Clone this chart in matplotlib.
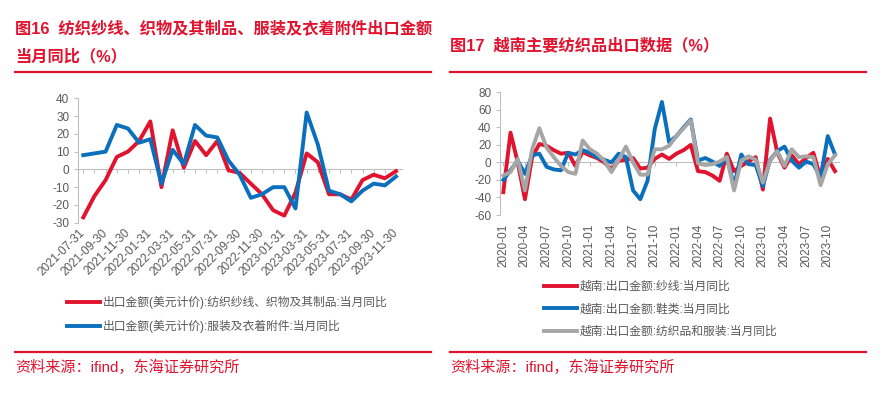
import matplotlib
matplotlib.use('Agg')
import matplotlib.pyplot as plt
from matplotlib.lines import Line2D
import pandas as pd

plt.rcParams['font.family'] = ['Liberation Sans', 'Noto Sans CJK SC']
plt.rcParams['axes.unicode_minus'] = False

# ---- data: left chart (图16) ----
left_dates = pd.date_range('2021-07-31', periods=29, freq='ME').strftime('%Y-%m-%d').tolist()
yarn_fabric = [-27, -15, -6, 7, 10, 16, 27, -10, 22, 1,
               16, 8, 16, -0.5, -2, -8, -14, -23, -26, -13,
               9, 4, -14, -14, -17, -6, -3, -5, -1]
apparel = [8, 9, 10, 25, 23, 15, 17, -8, 11, 3,
           25, 19, 18, 5, -3, -16, -14, -10, -10, -22,
           32, 14, -12, -14, -18, -12, -8, -9, -4]
left_labels = ['出口金额(美元计价):纺织纱线、织物及其制品:当月同比',
               '出口金额(美元计价):服装及衣着附件:当月同比']

# ---- data: right chart (图17) ----
right_months = pd.date_range('2020-01-01', periods=47, freq='MS').strftime('%Y-%m').tolist()
vn_yarn = [-34, 34, 0, -42, 6, 21, 19, 14, 10, 11,
           -4, 12, 8, 5, 0, -8, 2, 3, 5, -7,
           -6, 4, 9, 4, 10, 14, 20, -10, -11, -15,
           -21, 10, -10, -4, 1, 6, -31, 50, 11, -6,
           8, -2, 5, 11, -18, 4, -10]
vn_shoes = [-20, -9, 2, -13, 8, 10, -5, -8, -9, 11,
            9, 14, 11, 6, 3, 0, 10, 6, -32, -42,
            -21, 38, 69, 23, 30, 40, 49, 2, 5, 1,
            -4, 6, -27, 9, -2, -3, -27, 3, 13, 18,
            2, -6, 1, -2, -17, 30, 9]
vn_textile = [-15, -11, 4, -32, 15, 39, 17, 6, -4, -11,
              -13, 25, 15, 10, 2, -11, 3, 18, 0, -14,
              -14, 15, 15, 19, 30, 39, 48, -1, -3, -2,
              1, 6, -32, 2, 7, 3, -23, 2, 13, -4,
              15, 6, 7, 6, -26, -2, 8]
right_labels = ['越南:出口金额:纱线:当月同比',
                '越南:出口金额:鞋类:当月同比',
                '越南:出口金额:纺织品和服装:当月同比']

RED = '#E1132E'
BLUE = '#0A70BE'
GRAY = '#A6A6A6'
AXC = '#BFBFBF'
TXT = '#595959'

W, H = 884, 399
fig = plt.figure(figsize=(W / 100, H / 100), dpi=100)


def fx(px):
    return px / W


def fy(py):
    return 1 - py / H


def make_axes(l, t, r, b):
    return fig.add_axes([fx(l), fy(b), fx(r) - fx(l), fy(t) - fy(b)])


def style(ax, n, step, yticks, rot):
    ax.set_xlim(-0.5, n - 0.5)
    ax.set_ylim(yticks[0], yticks[-1])
    ax.set_yticks(yticks)
    for s in ['top', 'right', 'bottom']:
        ax.spines[s].set_visible(False)
    ax.spines['left'].set_color(AXC)
    ax.tick_params(axis='y', colors=TXT, labelsize=8.5, length=3, color=AXC, pad=3)
    ax.tick_params(axis='x', colors=TXT, labelsize=8.5, length=0, pad=6)
    sec = ax.secondary_xaxis(0, transform=ax.transData)
    sec.spines['bottom'].set_color(AXC)
    sec.set_xticks(range(0, n, 1 if rot == 45 else step))
    sec.set_xticklabels([])
    sec.tick_params(axis='x', length=3, color=AXC)


# left chart
axl = make_axes(77.7, 98.3, 401.6, 222.7)
xl = range(len(left_dates))
axl.plot(xl, yarn_fabric, color=RED, lw=2.8, label=left_labels[0])
axl.plot(xl, apparel, color=BLUE, lw=2.8, label=left_labels[1])
style(axl, len(left_dates), 2, [-30, -20, -10, 0, 10, 20, 30, 40], 45)
axl.set_xticks(range(0, len(left_dates), 2))
axl.set_xticklabels(left_dates[::2], rotation=45, ha='right', va='center',
                    rotation_mode='anchor')

# right chart
axr = make_axes(499.7, 92.3, 838.6, 215)
xr = range(len(right_months))
axr.plot(xr, vn_yarn, color=RED, lw=2.8, label=right_labels[0])
axr.plot(xr, vn_shoes, color=BLUE, lw=2.8, label=right_labels[1])
axr.plot(xr, vn_textile, color=GRAY, lw=2.8, label=right_labels[2])
style(axr, len(right_months), 3, [-60, -40, -20, 0, 20, 40, 60, 80], 90)
axr.set_xticks(range(0, len(right_months), 3))
axr.set_xticklabels(right_months[::3], rotation=90, ha='center', va='top')

# legends
leg_kw = dict(frameon=False, fontsize=8.5, handlelength=2.8, handletextpad=0.2,
              labelcolor=TXT, loc='upper left', borderaxespad=0, borderpad=0)
fig.legend(*axl.get_legend_handles_labels(), bbox_to_anchor=(fx(67), fy(296)),
           labelspacing=0.88, **leg_kw)
fig.legend(*axr.get_legend_handles_labels(), bbox_to_anchor=(fx(544), fy(281)),
           labelspacing=0.88, **leg_kw)

# titles
fig.text(fx(15), fy(28), '图16  纺织纱线、织物及其制品、服装及衣着附件出口金额',
         color=RED, fontsize=11.7, fontweight='bold', va='center', ha='left')
fig.text(fx(15), fy(57), '当月同比（%）', color=RED, fontsize=11.7,
         fontweight='bold', va='center', ha='left')
fig.text(fx(450), fy(45), '图17  越南主要纺织品出口数据（%）', color=RED,
         fontsize=11.7, fontweight='bold', va='center', ha='left')

# separators
for x0, x1 in [(15, 431), (450, 866)]:
    for yy in [72, 352]:
        fig.add_artist(Line2D([fx(x0), fx(x1)], [fy(yy), fy(yy)],
                              transform=fig.transFigure, color=RED, lw=1.6))

# sources
fig.text(fx(15), fy(367), '资料来源：ifind，东海证券研究所', color=RED,
         fontsize=10.9, va='center', ha='left')
fig.text(fx(450), fy(367), '资料来源：ifind，东海证券研究所', color=RED,
         fontsize=10.9, va='center', ha='left')

fig.savefig('out.png', dpi=100)
